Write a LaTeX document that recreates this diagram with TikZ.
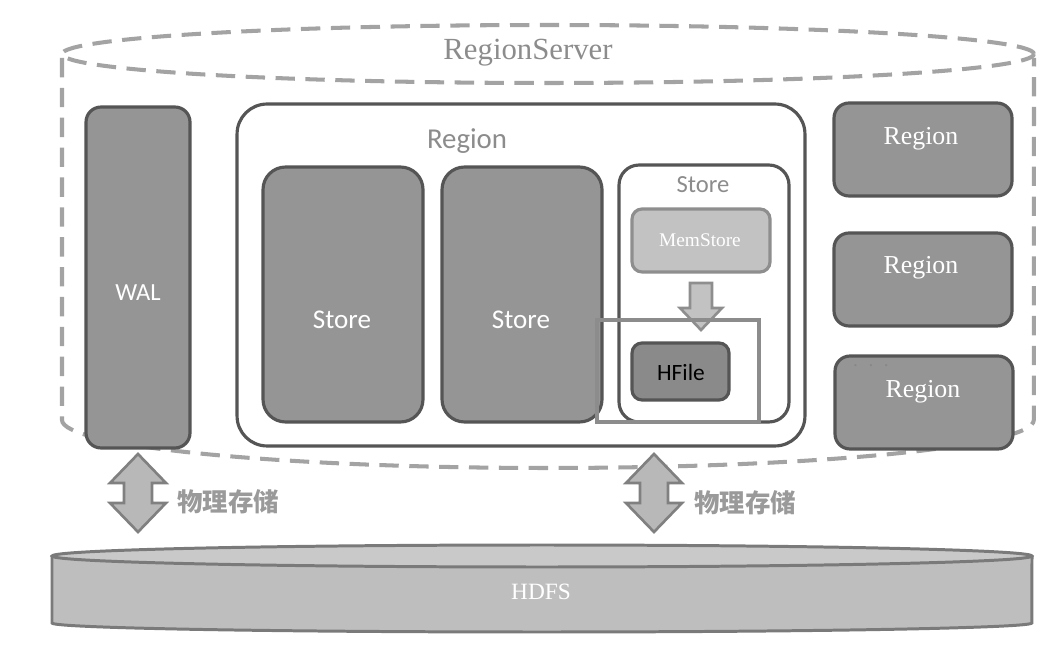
\documentclass[tikz,border=0pt]{standalone}
\usepackage{fontspec}
\setmainfont{Liberation Serif}
\newfontfamily\calfont{Carlito}
\newfontfamily\cjk{Noto Sans CJK SC}
\definecolor{boxgray}{HTML}{959595}
\definecolor{edgegray}{HTML}{555555}
\definecolor{labelgray}{HTML}{8C8C8C}
\definecolor{memgray}{HTML}{C2C2C2}
\definecolor{memedge}{HTML}{8E8E8E}
\definecolor{hfilegray}{HTML}{8A8A8A}
\definecolor{dashgray}{HTML}{A3A3A3}
\definecolor{hdfsgray}{HTML}{BEBEBE}
\definecolor{hdfstop}{HTML}{C9C9C9}
\definecolor{hdfsedge}{HTML}{7A7A7A}
\definecolor{arrowgray}{HTML}{B8B8B8}
\definecolor{arrowedge}{HTML}{808080}
\definecolor{cngray}{HTML}{9A9A9A}
\tikzset{
  box/.style={draw=edgegray, fill=boxgray, line width=1.8pt, inner sep=0pt, rounded corners=0.3cm},
  whitebox/.style={box, fill=white},
  memstorebox/.style={box, draw=memedge, fill=memgray, rounded corners=0.2cm},
  hfilebox/.style={box, fill=hfilegray, rounded corners=0.2cm},
  sanstxt/.style={font=\calfont\fontsize{#1}{#1}\selectfont, inner sep=0pt},
  seriftxt/.style={font=\fontsize{#1}{#1}\selectfont, inner sep=0pt},
  cntxt/.style={font=\cjk\bfseries\fontsize{14.5}{14.5}\selectfont, text=cngray, inner sep=0pt},
  dashline/.style={draw=dashgray, line width=2.3pt, dash pattern=on 11pt off 6pt},
  blockarrow/.style={draw=arrowedge, fill=arrowgray, line width=1.5pt, line join=miter},
}
\begin{document}
\begin{tikzpicture}[x=0.02cm, y=-0.02cm]
  \useasboundingbox (0,0) rectangle (1061,651);
  % RegionServer cylinder
  \draw[dashline] (548,54) ellipse (9.72cm and 0.58cm);
  \draw[dashline] (62,58) -- (62,420) arc[start angle=180, end angle=360, x radius=9.72cm, y radius=0.96cm] -- (1034,58);
  \node[seriftxt=17.5, text=labelgray] (rs) at (528,53) {RegionServer};
  % WAL and the open region
  \node[box, minimum width=2.08cm, minimum height=6.82cm] (wal) at (138,277.5) {};
  \node[whitebox, rounded corners=0.6cm, minimum width=11.36cm, minimum height=6.84cm] (region) at (521,275) {};
  \node[box, rounded corners=0.45cm, minimum width=3.2cm, minimum height=5.1cm] (store1) at (343,294.5) {};
  \node[box, rounded corners=0.45cm, minimum width=3.2cm, minimum height=5.1cm] (store2) at (522,294.5) {};
  \node[whitebox, rounded corners=0.4cm, minimum width=3.4cm, minimum height=5.14cm] (store3) at (704,293.5) {};
  \node[memstorebox, minimum width=2.76cm, minimum height=1.26cm] (mem) at (701,240.5) {};
  \draw[blockarrow, draw=memedge, fill=memgray] (690,283) -- (712,283) -- (712,308) -- (722,308)
    -- (701,330) -- (680,308) -- (690,308) -- cycle;
  \node[hfilebox, minimum width=1.94cm, minimum height=1.14cm] (hfile) at (680.5,371.5) {};
  \draw[draw=labelgray, line width=2.3pt] (597,320) rectangle (759,422);
  % other regions
  \node[box, minimum width=3.56cm, minimum height=1.86cm] (reg1) at (923,149.5) {};
  \node[box, minimum width=3.56cm, minimum height=1.86cm] (reg2) at (923,279.5) {};
  \node[box, minimum width=3.56cm, minimum height=1.86cm] (reg3) at (924,402.5) {};
  % labels
  \node[sanstxt=14, text=white] (walT) at (138,293) {WAL};
  \node[sanstxt=16.4, text=labelgray] (regionT) at (467,141) {Region};
  \node[sanstxt=15.4, text=white] (store1T) at (342,320) {Store};
  \node[sanstxt=15.4, text=white] (store2T) at (521,320) {Store};
  \node[sanstxt=14, text=labelgray] (store3T) at (703,185) {Store};
  \node[seriftxt=11, text=white] (memT) at (700,240) {MemStore};
  \node[sanstxt=13.3, text=black] (hfileT) at (681,372) {HFile};
  \node[seriftxt=14.7, text=white] (reg1T) at (921,139) {Region};
  \node[seriftxt=14.7, text=white] (reg2T) at (921,268) {Region};
  \node[seriftxt=14.7, text=white] (reg3T) at (923,392) {Region};
  \node[seriftxt=11, text=edgegray!70] (dots) at (871,366) {.\hspace{6pt}.\hspace{6pt}.};
  % physical storage
  \foreach \ax/\nm in {138/left, 654/right}{
    \draw[blockarrow] (\ax,454) -- ++(28,29) -- ++(-14,0) -- ++(0,20) -- ++(14,0) -- ++(-28,29)
      -- ++(-28,-29) -- ++(14,0) -- ++(0,-20) -- ++(-14,0) -- cycle;
  }
  \node[cntxt] (storeL) at (228,502) {物理存储};
  \node[cntxt] (storeR) at (745,503) {物理存储};
  % HDFS cylinder
  \fill[hdfsgray] (52,556) -- (52,623) arc[start angle=180, end angle=360, x radius=9.8cm, y radius=0.18cm] -- (1032,556) -- cycle;
  \draw[draw=hdfsedge, line width=1.7pt] (52,556) -- (52,623) arc[start angle=180, end angle=360, x radius=9.8cm, y radius=0.18cm] -- (1032,556);
  \draw[draw=hdfsedge, fill=hdfstop, line width=1.7pt] (542,556) ellipse (9.8cm and 0.22cm);
  \node[seriftxt=13.3, text=white] (hdfs) at (541,592) {HDFS};
\end{tikzpicture}
\end{document}
